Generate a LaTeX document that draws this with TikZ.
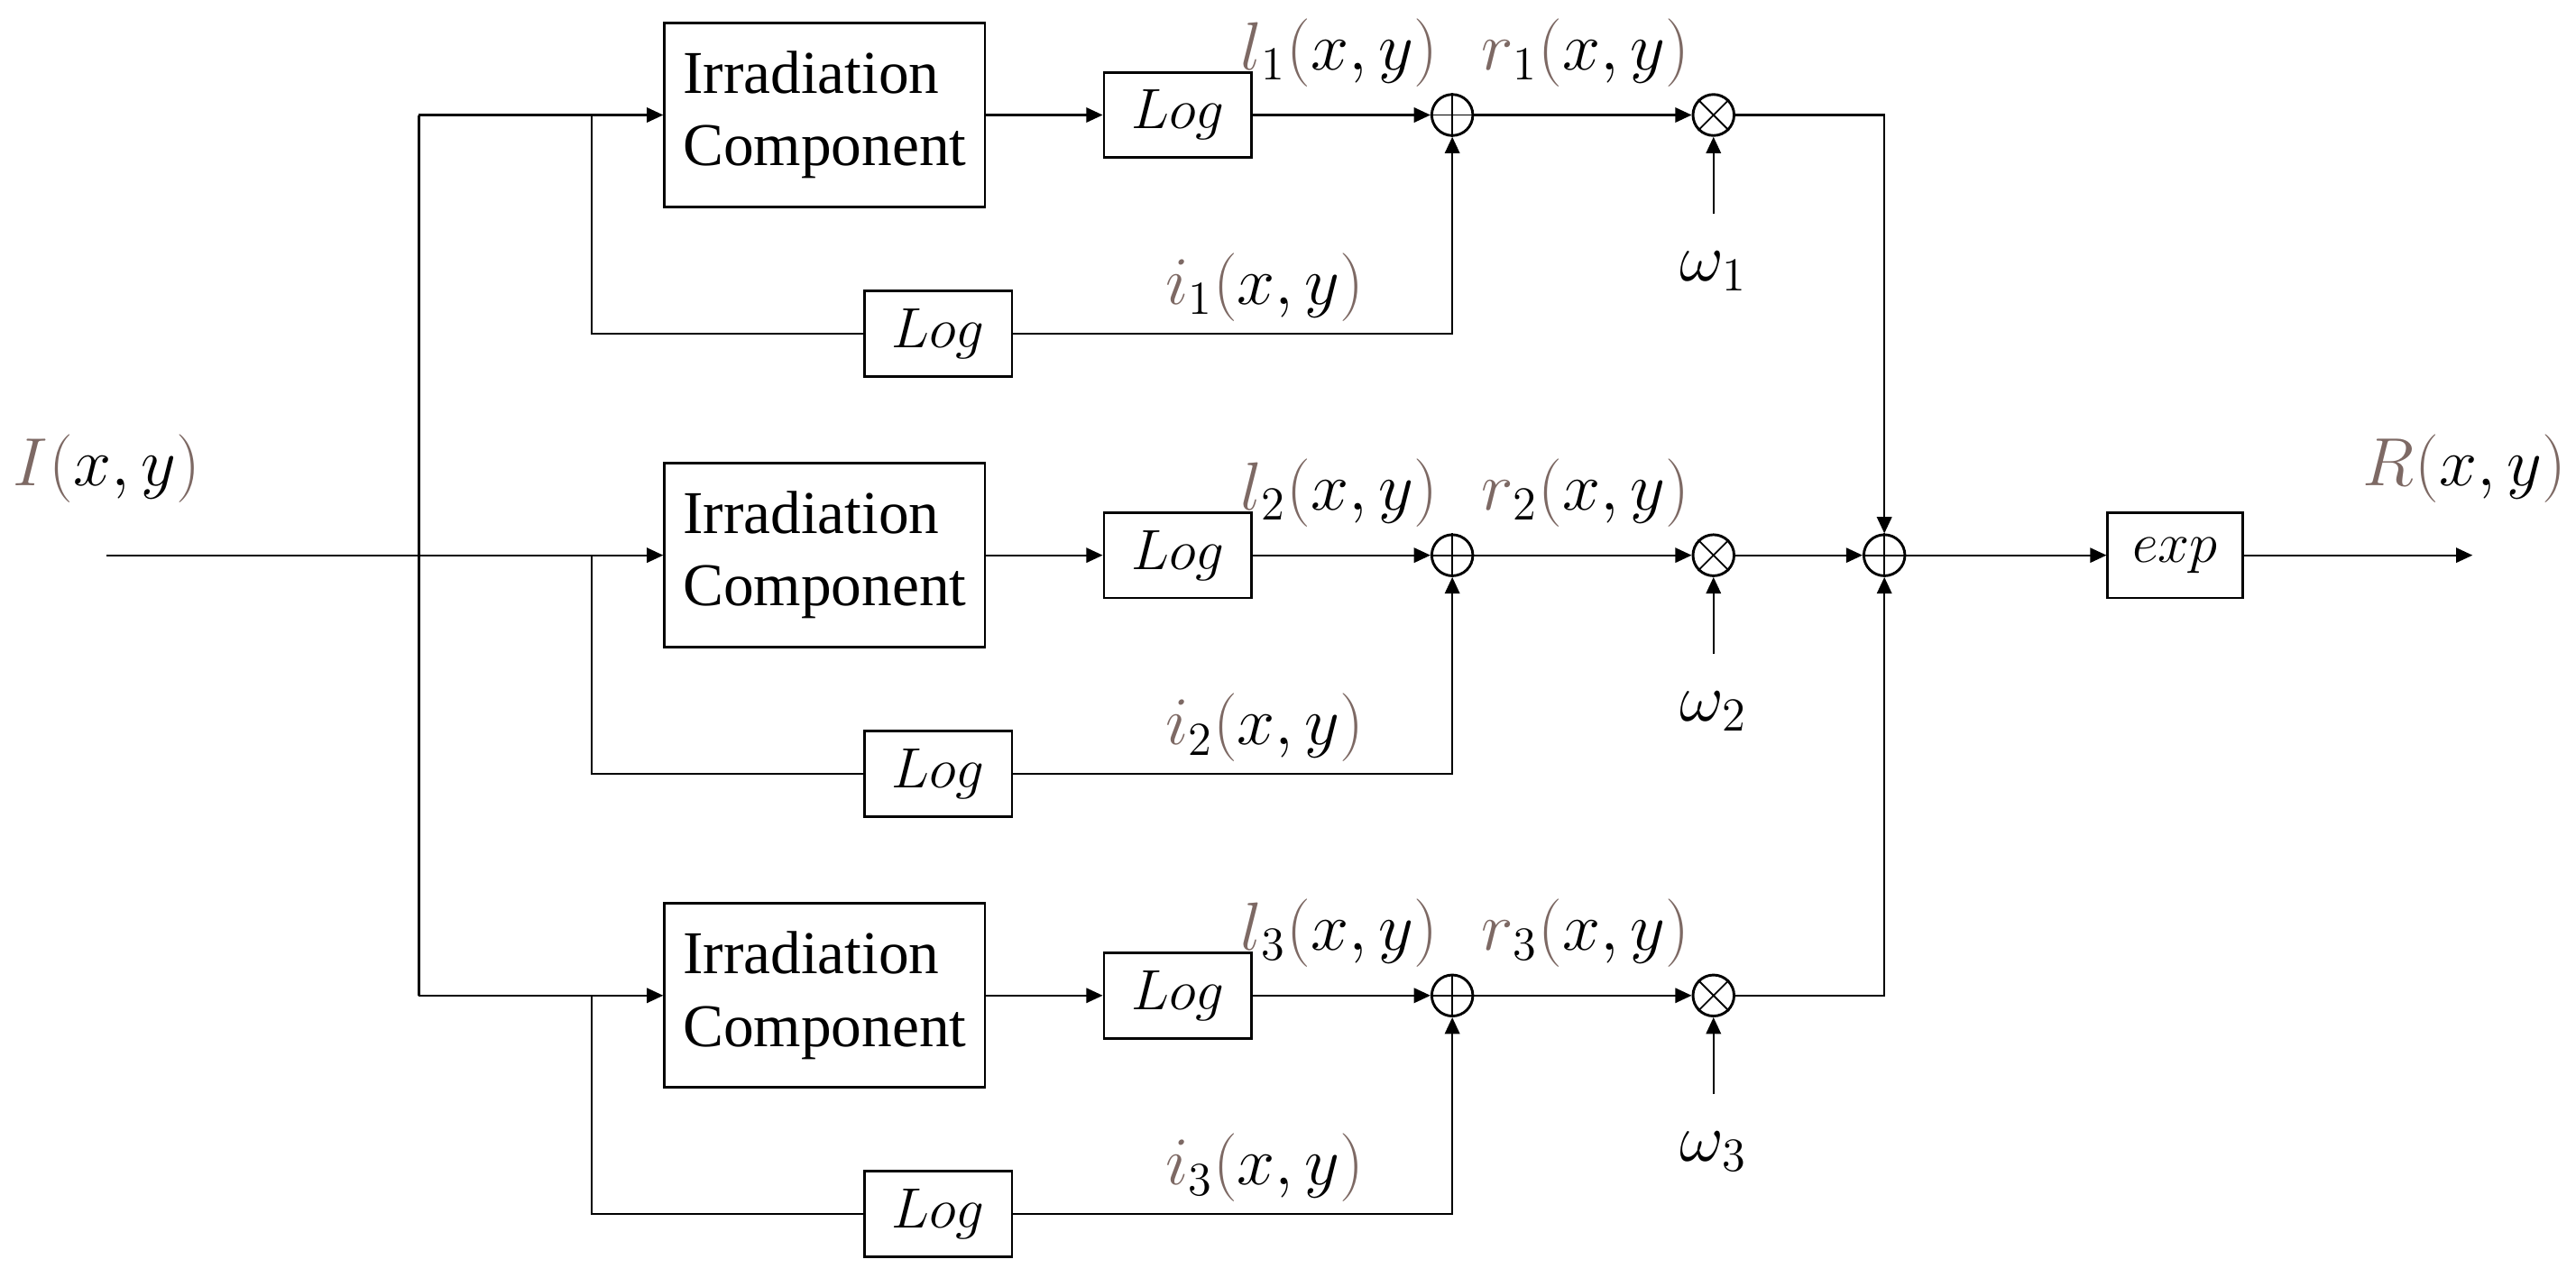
\documentclass[tikz,border=0pt]{standalone}
\usepackage{fontspec}
\setmainfont{Liberation Serif}
\usetikzlibrary{arrows.meta}
\definecolor{lbl}{RGB}{125,105,100}
\newcommand{\xyl}[2]{\textcolor{lbl}{$#1$}$_{#2}$\textcolor{lbl}{$($}$x,y$\textcolor{lbl}{$)$}}
\begin{document}
\begin{tikzpicture}[x=0.5pt,y=-0.5pt,
  line width=0.6pt,
  >={Triangle[length=5pt,width=4.5pt]},
  box/.style={draw,line width=0.8pt,inner sep=0pt},
  ic/.style={box,minimum width=97.5pt,minimum height=56pt,align=left,font=\fontsize{18.5}{22}\selectfont},
  lg/.style={box,minimum width=45pt,minimum height=26pt,font=\fontsize{19}{20}\selectfont},
  circ/.style={draw,circle,line width=0.8pt,minimum size=12.5pt,inner sep=0pt},
  lab/.style={font=\fontsize{19.5}{22}\selectfont,inner sep=0pt}]
\useasboundingbox (0,0) rectangle (1568,783);
\coordinate (in) at (65,338);
\coordinate (bt) at (255,70);
\coordinate (bb) at (255,606);
\coordinate (bm) at (255,338);
\node[lab] at (65,285) {\xyl{I}{}};
\foreach \k/\y in {1/70,2/338,3/606}{
  \node[ic] (ic\k) at (502,\y) {Irradiation\\Component};
  \node[lg] (lu\k) at (717,\y) {$Log$};
  \node[lg] (ll\k) at (571,\y+133) {$Log$};
  \node[circ] (s\k) at (884,\y) {};
  \node[circ] (m\k) at (1043,\y) {};
  \draw[line width=0.5pt] (m\k.north west)--(m\k.south east) (m\k.north east)--(m\k.south west);
  \draw[line width=0.5pt] (s\k.north)--(s\k.south) (s\k.west)--(s\k.east);
  \coordinate (sp\k) at (360,\y);
  \coordinate (lc\k) at (360,\y+133);
  \coordinate (lr\k) at (884,\y+133);
  \coordinate (w\k) at (1043,\y+60);
  \node[lab] at (1043,\y+95) {$\omega_{\k}$};
  \node[lab] at (815,\y-38) {\xyl{l}{\k}};
  \node[lab] at (965,\y-38) {\xyl{r}{\k}};
  \node[lab] at (770,\y+105) {\xyl{i}{\k}};
  \draw[->] (bt|-ic\k.west) -- (ic\k.west);
  \draw (sp\k) -- (lc\k) -- (ll\k.west);
  \draw[->] (ic\k) -- (lu\k);
  \draw[->] (lu\k) -- (s\k);
  \draw[->] (ll\k.east) -- (lr\k) -- (s\k.south);
  \draw[->] (s\k) -- (m\k);
  \draw[->] (w\k) -- (m\k.south);
}
\draw (bt) -- (bb);
\draw (in) -- (bm);
\node[circ] (S) at (1147,338) {};
\draw[line width=0.5pt] (S.north)--(S.south) (S.west)--(S.east);
\node[lg,minimum width=41pt] (ex) at (1324,338) {$exp$};
\coordinate (out) at (1505,338);
\node[lab] at (1500,285) {\xyl{R}{}};
\draw[->] (m1) -| (S.north);
\draw[->] (m2) -- (S);
\draw[->] (m3) -| (S.south);
\draw[->] (S) -- (ex);
\draw[->] (ex) -- (out);
\end{tikzpicture}
\end{document}
